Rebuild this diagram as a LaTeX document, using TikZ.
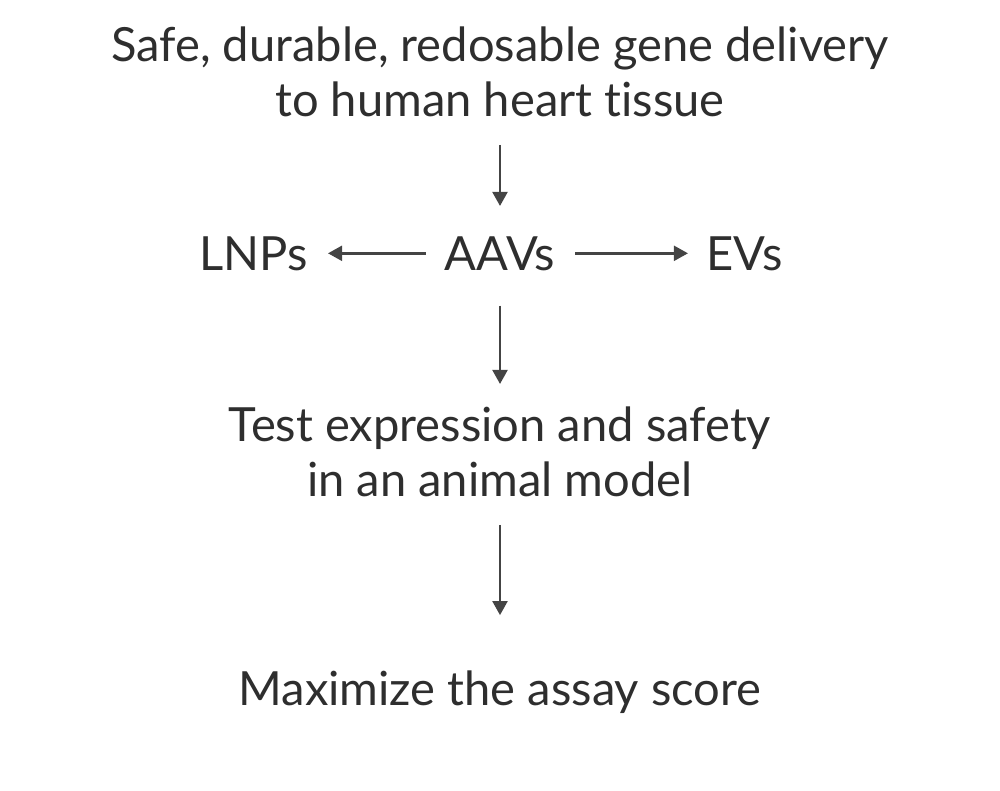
\documentclass[tikz,border=0pt]{standalone}
\usepackage{fontspec}
\setmainfont{Lato}[Ligatures={NoCommon,NoRare}]
\usetikzlibrary{arrows.meta}
\definecolor{ink}{HTML}{2E2E2E}
\definecolor{wire}{HTML}{444444}
\tikzset{
  txt/.style={font=\fontsize{33.5}{39}\selectfont, text=ink, inner sep=0pt, align=center},
  flow/.style={draw=wire, line width=2pt, -{Triangle[width=10.5pt,length=10pt]}}
}
\begin{document}
\begin{tikzpicture}[x=0.025cm, y=-0.025cm]
    \useasboundingbox (0,0) rectangle (1000,790);
    % text blocks
    \node[txt, anchor=south] (goal) at (500,117) {Safe, durable, redosable gene delivery\\to human heart tissue};
    \node[txt, anchor=base] (aav) at (500,270) {AAVs};
    \node[txt, anchor=base east] (lnp) at (308,270) {LNPs};
    \node[txt, anchor=base west] (ev) at (706,270) {EVs};
    \node[txt, anchor=south] (test) at (500,497) {Test expression and safety\\in an animal model};
    \node[txt, anchor=base] (score) at (500,705) {Maximize the assay score};
    % arrows
    \draw[flow, shorten <=19.8pt, shorten >=21.3pt] (goal.south) -- (aav.north);
    \draw[flow, shorten <=13.5pt, shorten >=14.2pt] (aav.west) -- (lnp.east);
    \draw[flow, shorten <=14.2pt, shorten >=12.8pt] (aav.east) -- (ev.west);
    \draw[flow, shorten <=24.8pt, shorten >=16pt] (aav.south) -- (test.north);
    \draw[flow, shorten <=19.8pt, shorten >=39pt] (test.south) -- (score.north);
\end{tikzpicture}
\end{document}
